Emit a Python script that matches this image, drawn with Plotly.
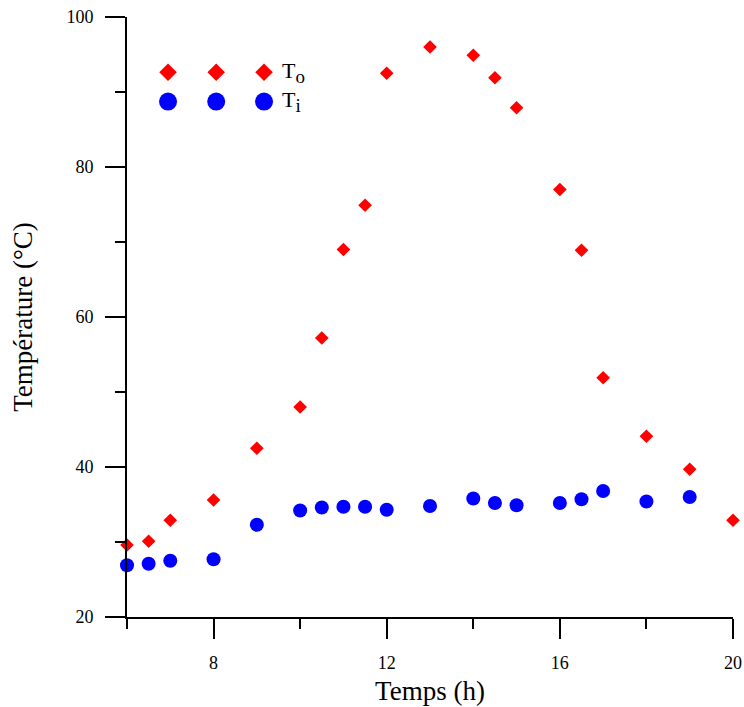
import plotly.graph_objects as go

# Data
hours_o = [6, 6.5, 7, 8, 9, 10, 10.5, 11, 11.5, 12, 13, 14, 14.5, 15, 16, 16.5, 17, 18, 19, 20]
temp_o = [29.6, 30.1, 32.9, 35.6, 42.5, 48.0, 57.2, 69.0, 74.9, 92.5, 96.0, 94.9, 91.9, 87.9, 77.0, 68.9, 51.9, 44.1, 39.7, 32.9]
hours_i = [6, 6.5, 7, 8, 9, 10, 10.5, 11, 11.5, 12, 13, 14, 14.5, 15, 16, 16.5, 17, 18, 19]
temp_i = [26.9, 27.1, 27.5, 27.7, 32.3, 34.2, 34.6, 34.7, 34.7, 34.3, 34.8, 35.8, 35.2, 34.9, 35.2, 35.7, 36.8, 35.4, 36.0]

legend_labels = ["T<sub><span style='font-size:19px'>o</span></sub>",
                 "T<sub><span style='font-size:19px'>i</span></sub>"]

FONT = "Liberation Serif, Times New Roman, serif"
RED = "#ff0000"
BLUE = "#0000ff"

fig = go.Figure()
fig.add_trace(go.Scatter(x=hours_o, y=temp_o, mode="markers", cliponaxis=False,
                         marker=dict(symbol="diamond", size=10.5, color=RED, line=dict(width=0)),
                         showlegend=False))
fig.add_trace(go.Scatter(x=hours_i, y=temp_i, mode="markers", cliponaxis=False,
                         marker=dict(symbol="circle", size=14, color=BLUE, line=dict(width=0)),
                         showlegend=False))

# Legend key (Origin-style, three symbols per entry) on a hidden overlay axis
key_x = [0.0677, 0.1472, 0.2261]
key_y = [0.908, 0.859]
fig.add_trace(go.Scatter(x=key_x, y=[key_y[0]] * 3, xaxis="x2", yaxis="y2", mode="markers",
                         marker=dict(symbol="diamond", size=13.5, color=RED, line=dict(width=0)),
                         showlegend=False, hoverinfo="skip"))
fig.add_trace(go.Scatter(x=key_x, y=[key_y[1]] * 3, xaxis="x2", yaxis="y2", mode="markers",
                         marker=dict(symbol="circle", size=18, color=BLUE, line=dict(width=0)),
                         showlegend=False, hoverinfo="skip"))

for lab, yy in zip(legend_labels, key_y):
    fig.add_annotation(x=0.2525, y=yy, xref="paper", yref="paper", text=lab, showarrow=False,
                       xanchor="left", yanchor="middle", font=dict(family=FONT, size=22, color="black"))

axis_common = dict(showline=True, linecolor="black", linewidth=2, ticks="outside", ticklen=20,
                   tickwidth=2, tickcolor="black", showgrid=False, zeroline=False, automargin=False,
                   tickfont=dict(family=FONT, size=18, color="black"))

fig.update_layout(
    width=744, height=707,
    margin=dict(l=127, r=11, t=17, b=90),
    plot_bgcolor="white", paper_bgcolor="white",
    showlegend=False,
    xaxis=dict(range=[6, 20], tick0=0, dtick=4, ticklabelstandoff=8,
               minor=dict(dtick=2, tick0=0, ticks="outside", ticklen=10, tickwidth=2, tickcolor="black", showgrid=False),
               title=dict(text="Temps (h)", font=dict(family=FONT, size=27, color="black"), standoff=10),
               **axis_common),
    yaxis=dict(range=[20, 100], tick0=0, dtick=20, ticklabelstandoff=8,
               minor=dict(dtick=10, tick0=0, ticks="outside", ticklen=10, tickwidth=2, tickcolor="black", showgrid=False),
               title=dict(text="Température (°C)", font=dict(family=FONT, size=27, color="black"), standoff=26),
               **axis_common),
    xaxis2=dict(range=[0, 1], overlaying="x", visible=False, fixedrange=True),
    yaxis2=dict(range=[0, 1], overlaying="y", visible=False, fixedrange=True),
)

fig.write_html("out.html")
